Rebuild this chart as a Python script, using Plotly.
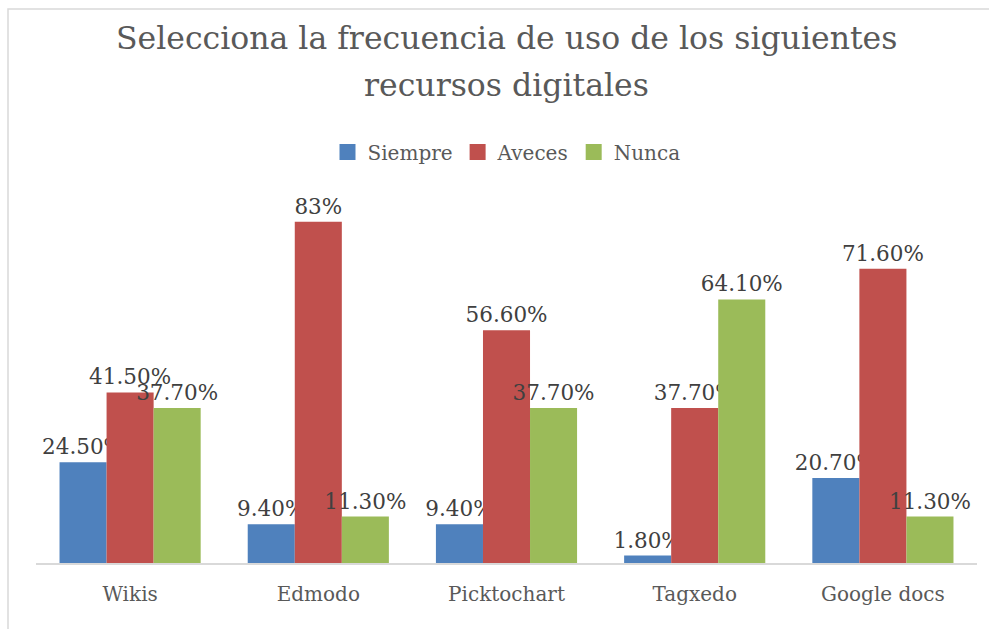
import plotly.graph_objects as go

categories = ["Wikis", "Edmodo", "Picktochart", "Tagxedo", "Google docs"]
siempre = [24.5, 9.4, 9.4, 1.8, 20.7]
aveces = [41.5, 83.0, 56.6, 37.7, 71.6]
nunca = [37.7, 11.3, 37.7, 64.1, 11.3]
siempre_lbl = ["24.50%", "9.40%", "9.40%", "1.80%", "20.70%"]
aveces_lbl = ["41.50%", "83%", "56.60%", "37.70%", "71.60%"]
nunca_lbl = ["37.70%", "11.30%", "37.70%", "64.10%", "11.30%"]

series = [
    ("Siempre", siempre, siempre_lbl, "#4F81BD"),
    ("Aveces", aveces, aveces_lbl, "#C0504D"),
    ("Nunca", nunca, nunca_lbl, "#9BBB59"),
]

FONT = "DejaVu Serif"
fig = go.Figure()
for name, vals, lbls, col in series:
    fig.add_trace(go.Bar(
        name=name, x=categories, y=vals, text=lbls, legendgroup=name, showlegend=False,
        textposition="outside", cliponaxis=False, constraintext="none",
        textfont=dict(family=FONT, size=21.5, color="#404040"),
        marker=dict(color=col, line=dict(width=0)),
    ))
# legend entries (square swatches)
for name, vals, lbls, col in series:
    fig.add_trace(go.Scatter(
        name=name, x=[None], y=[None], mode="markers", legendgroup=name,
        marker=dict(symbol="square", size=17, color=col),
    ))

W, H = 989, 629
ml, mr, mt, mb = 36, 12, 193, 66
pw = W - ml - mr
ph = H - mt - mb

def py(pix):
    return (H - mb - pix) / ph

fig.update_layout(
    width=W, height=H,
    margin=dict(l=ml, r=mr, t=mt, b=mb, autoexpand=False),
    paper_bgcolor="white", plot_bgcolor="white",
    barmode="group", bargap=0.25, bargroupgap=0,
    legend=dict(
        orientation="h", x=0.5, xanchor="center", y=py(152), yanchor="middle",
        font=dict(family=FONT, size=20, color="#595959"),
        itemwidth=30, traceorder="normal", itemsizing="trace",
    ),
    xaxis=dict(
        showline=True, linecolor="#D9D9D9", linewidth=2, showgrid=False,
        ticks="", ticklabelstandoff=12,
        tickfont=dict(family=FONT, size=20, color="#595959"),
    ),
    yaxis=dict(range=[0, 90], visible=False, showgrid=False, zeroline=False),
    annotations=[
        dict(text="Selecciona la frecuencia de uso de los siguientes", xref="paper", yref="paper",
             x=0.5, y=py(38), xanchor="center", yanchor="middle", showarrow=False,
             font=dict(family=FONT, size=31.5, color="#595959")),
        dict(text="recursos digitales", xref="paper", yref="paper",
             x=0.5, y=py(85), xanchor="center", yanchor="middle", showarrow=False,
             font=dict(family=FONT, size=31.5, color="#595959")),
    ],
    shapes=[dict(
        type="rect", xref="paper", yref="paper",
        x0=(8 - ml) / pw, x1=(W + 5 - ml) / pw,
        y0=py(H + 5), y1=py(9),
        line=dict(color="#D9D9D9", width=1.5), fillcolor="rgba(0,0,0,0)", layer="below",
    )],
)

fig.write_html("out.html", config={"displayModeBar": False},
               post_script="document.body.style.margin='0';document.body.style.padding='0';")
